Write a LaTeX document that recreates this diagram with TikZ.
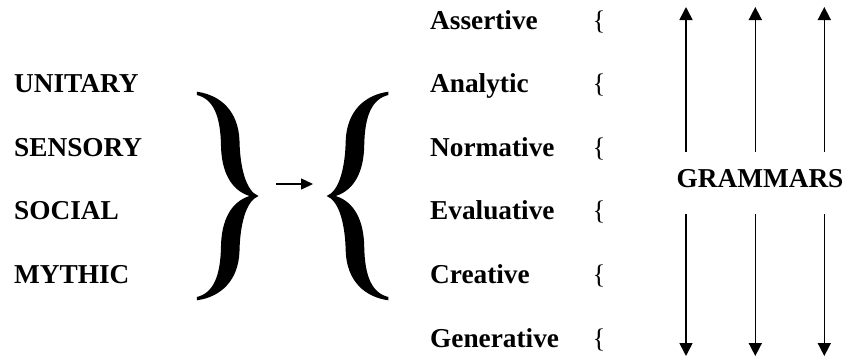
\documentclass[tikz,border=0pt]{standalone}
\usepackage{fontspec}
\setmainfont{Liberation Serif}
\usetikzlibrary{arrows.meta}
\newcommand\BigBracePath{(-61.7,-104.3) .. controls (-38,-101) and (-20,-85) .. (-19,-55)
      .. controls (-18.5,-30) and (-13,-5) .. (0,0)
      .. controls (-13,5) and (-18.5,30) .. (-19,55)
      .. controls (-20,85) and (-38,101) .. (-61.7,104.3)
      -- (-61.7,101) .. controls (-45,97) and (-38,80) .. (-37.5,50)
      .. controls (-37,25) and (-28,6) .. (-9,0)
      .. controls (-28,-6) and (-37,-25) .. (-37.5,-50)
      .. controls (-38,-80) and (-45,-97) .. (-61.7,-101) -- cycle}
\begin{document}
\begin{tikzpicture}[x=1pt,y=-1pt,
  word/.style={anchor=base west,inner sep=0pt,font=\fontsize{27.3}{30}\selectfont\bfseries},
  smallbrace/.style={anchor=base west,inner sep=0pt,font=\fontsize{26.8}{30}\selectfont},
  vline/.style={line width=1.6pt,-{Triangle[length=13pt,width=13pt]}},
  harrow/.style={line width=1.5pt,-{Triangle[length=12pt,width=11pt]}},
  bracefill/.style={fill=black,draw=none}
]
\useasboundingbox (0,0) rectangle (846,360);

% left words
\node[word] (unitary) at (14,92.6) {UNITARY};
\node[word] (sensory) at (14,156.2) {SENSORY};
\node[word] (social)  at (14,219.8) {SOCIAL};
\node[word] (mythic)  at (14,283.4) {MYTHIC};

% big braces
\path[bracefill,shift={(258.5,196)}] \BigBracePath;
\path[bracefill,shift={(326.7,196)},xscale=-1] \BigBracePath;

% middle arrow
\coordinate (ms) at (276,184);
\coordinate (me) at (313,184);
\draw[harrow] (ms) -- (me);

% right words
\node[word] (assertive)  at (430,29)    {Assertive};
\node[word] (analytic)   at (430,92.6)  {Analytic};
\node[word] (normative)  at (430,156.2) {Normative};
\node[word] (evaluative) at (430,219.8) {Evaluative};
\node[word] (creative)   at (430,283.4) {Creative};
\node[word] (generative) at (430,347)   {Generative};

\node[smallbrace] (sb1) at (592.3,29)    {\{};
\node[smallbrace] (sb2) at (592.3,92.6)  {\{};
\node[smallbrace] (sb3) at (592.3,156.2) {\{};
\node[smallbrace] (sb4) at (592.3,219.8) {\{};
\node[smallbrace] (sb5) at (592.3,283.4) {\{};
\node[smallbrace] (sb6) at (592.3,347)   {\{};

% grammars
\node[anchor=base,inner sep=0pt,font=\fontsize{27.3}{30}\selectfont\bfseries] (gram) at (760,187) {GRAMMARS};

% vertical arrows
\foreach \i/\x in {1/686,2/755.3,3/824.3}{
  \coordinate (us\i) at (\x,152);
  \coordinate (ue\i) at (\x,7);
  \coordinate (ds\i) at (\x,214);
  \coordinate (de\i) at (\x,356);
  \draw[vline] (us\i) -- (ue\i);
  \draw[vline] (ds\i) -- (de\i);
}
\end{tikzpicture}
\end{document}
